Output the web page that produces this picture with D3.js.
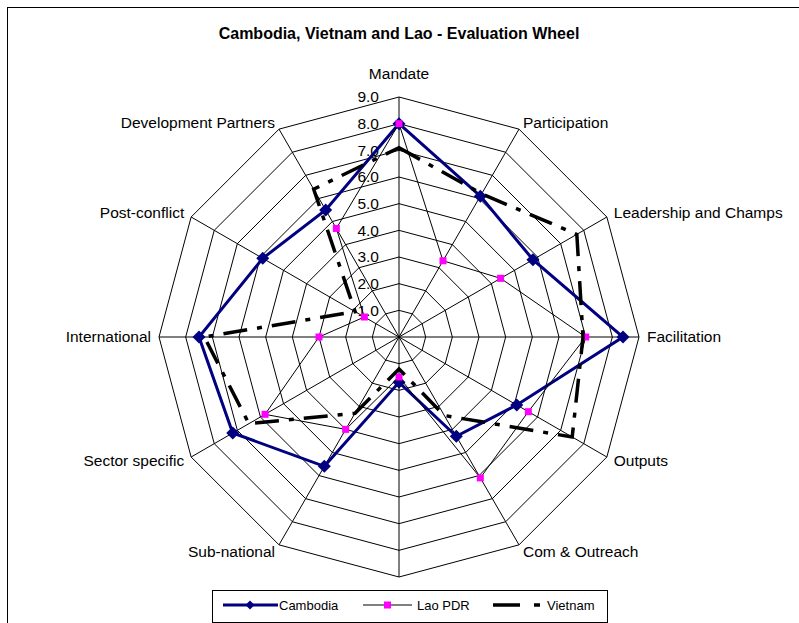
<!DOCTYPE html>
<html>
<head>
<meta charset="utf-8">
<script src="https://cdn.jsdelivr.net/npm/d3@7"></script>
<style>
  body { margin: 0; background: #fff; }
  text { font-family: "Liberation Sans", Arial, sans-serif; }
</style>
</head>
<body>
<div id="wrapper"></div>
<script>
const categories = ["Mandate", "Participation", "Leadership and Champs", "Facilitation", "Outputs",
    "Com & Outreach", "", "Sub-national", "Sector specific", "International", "Post-conflict",
    "Development Partners"]
const cambodia = [8.0, 6.1, 5.8, 8.4, 5.1, 4.3, 1.7, 5.6, 7.2, 7.5, 5.9, 5.5]
const laoPDR = [8.0, 3.3, 4.4, 7.0, 5.6, 6.1, 1.5, 4.0, 5.8, 3.0, 1.5, 4.7]
const vietnam = [7.1, 6.2, 7.7, 6.9, 7.5, 3.4, 1.2, 3.3, 6.5, 7.3, 1.9, 6.4]
const tickValues = [1, 2, 3, 4, 5, 6, 7, 8, 9]

let dimensions = {
    width: 799,
    height: 623,
    cx: 399,
    cy: 337,
    radius: 240,
}

const wrapper = d3.select("#wrapper")
    .append("svg")
    .attr("width", dimensions.width)
    .attr("height", dimensions.height)

// chart area border (runs off right / bottom)
wrapper.append("rect")
    .attr("x", 7.5).attr("y", 7.5)
    .attr("width", 820).attr("height", 640)
    .attr("fill", "none")
    .attr("stroke", "#000")
    .attr("stroke-width", 1)

wrapper.append("text")
    .attr("x", 399).attr("y", 39)
    .attr("text-anchor", "middle")
    .attr("font-size", "16px")
    .attr("font-weight", "bold")
    .text("Cambodia, Vietnam and Lao - Evaluation Wheel")

const bounds = wrapper.append("g")
    .attr("transform", `translate(${dimensions.cx},${dimensions.cy})`)

const rScale = d3.scaleLinear().domain([0, 9]).range([0, dimensions.radius])
const angleScale = d3.scaleLinear().domain([0, categories.length]).range([0, 2 * Math.PI])

const px = (i, v) => rScale(v) * Math.sin(angleScale(i))
const py = (i, v) => -rScale(v) * Math.cos(angleScale(i))

// rings
const ringLine = d3.line().x(d => d[0]).y(d => d[1]).curve(d3.curveLinearClosed)
bounds.selectAll(".ring")
    .data(tickValues)
    .enter().append("path")
    .attr("class", "ring")
    .attr("d", t => ringLine(categories.map((c, i) => [px(i, t), py(i, t)])))
    .attr("fill", "none")
    .attr("stroke", "#000")
    .attr("stroke-width", 1)

// spokes
bounds.selectAll(".spoke")
    .data(categories)
    .enter().append("line")
    .attr("class", "spoke")
    .attr("x1", 0).attr("y1", 0)
    .attr("x2", (d, i) => px(i, 9))
    .attr("y2", (d, i) => py(i, 9))
    .attr("stroke", "#000")
    .attr("stroke-width", 1)

// value labels
bounds.selectAll(".tick")
    .data(tickValues)
    .enter().append("text")
    .attr("class", "tick")
    .attr("x", -20)
    .attr("y", d => -rScale(d))
    .attr("dy", "0.35em")
    .attr("text-anchor", "end")
    .attr("font-size", "15.5px")
    .attr("fill", "#000")
    .text(d => d3.format(".1f")(d))

// category labels
bounds.selectAll(".cat")
    .data(categories)
    .enter().append("text")
    .attr("class", "cat")
    .attr("x", (d, i) => px(i, 9) + 8 * Math.sin(angleScale(i)))
    .attr("y", (d, i) => py(i, 9) - 8 * Math.cos(angleScale(i)) - (i === 0 ? 15 : 0))
    .attr("dy", "0.35em")
    .attr("text-anchor", (d, i) => {
        const s = Math.sin(angleScale(i))
        return s > 0.01 ? "start" : s < -0.01 ? "end" : "middle"
    })
    .attr("font-size", "15.5px")
    .attr("fill", "#000")
    .text(d => d)

const radarLine = d3.lineRadial()
    .angle((d, i) => angleScale(i))
    .radius(d => rScale(d))
    .curve(d3.curveLinearClosed)

// Cambodia
bounds.append("path")
    .attr("d", radarLine(cambodia))
    .attr("fill", "none")
    .attr("stroke", "#000080")
    .attr("stroke-width", 3)
const diamond = s => `M0,${-s}L${s},0L0,${s}L${-s},0Z`
bounds.selectAll(".camb")
    .data(cambodia)
    .enter().append("path")
    .attr("class", "camb")
    .attr("d", diamond(6.5))
    .attr("transform", (d, i) => `translate(${px(i, d)},${py(i, d)})`)
    .attr("fill", "#000080")

// Lao PDR
bounds.append("path")
    .attr("d", radarLine(laoPDR))
    .attr("fill", "none")
    .attr("stroke", "#000")
    .attr("stroke-width", 1)
bounds.selectAll(".lao")
    .data(laoPDR)
    .enter().append("rect")
    .attr("class", "lao")
    .attr("x", (d, i) => px(i, d) - 3.5)
    .attr("y", (d, i) => py(i, d) - 3.5)
    .attr("width", 7).attr("height", 7)
    .attr("fill", "#ff00ff")

// Vietnam
bounds.append("path")
    .attr("d", radarLine(vietnam))
    .attr("fill", "none")
    .attr("stroke", "#000")
    .attr("stroke-width", 3.5)
    .attr("stroke-dasharray", "24,10,5,10")

// legend
const legend = wrapper.append("g")
legend.append("rect")
    .attr("x", 212.5).attr("y", 590.5)
    .attr("width", 395).attr("height", 32)
    .attr("fill", "#fff")
    .attr("stroke", "#000")
    .attr("stroke-width", 1)
const ly = 605
legend.append("line")
    .attr("x1", 223).attr("x2", 278).attr("y1", ly).attr("y2", ly)
    .attr("stroke", "#000080").attr("stroke-width", 3)
legend.append("path")
    .attr("d", diamond(4.5))
    .attr("transform", `translate(250,${ly})`)
    .attr("fill", "#000080")
legend.append("line")
    .attr("x1", 363).attr("x2", 412).attr("y1", ly).attr("y2", ly)
    .attr("stroke", "#000").attr("stroke-width", 1)
legend.append("rect")
    .attr("x", 384).attr("y", ly - 3.5)
    .attr("width", 7).attr("height", 7)
    .attr("fill", "#ff00ff")
legend.append("line")
    .attr("x1", 493).attr("x2", 541).attr("y1", ly).attr("y2", ly)
    .attr("stroke", "#000").attr("stroke-width", 3.5)
    .attr("stroke-dasharray", "27,14,6,10")
legend.selectAll(".ltext")
    .data([["Cambodia", 279], ["Lao PDR", 417], ["Vietnam", 547]])
    .enter().append("text")
    .attr("x", d => d[1]).attr("y", ly)
    .attr("dy", "0.35em")
    .attr("font-size", "13px")
    .text(d => d[0])
</script>
</body>
</html>
